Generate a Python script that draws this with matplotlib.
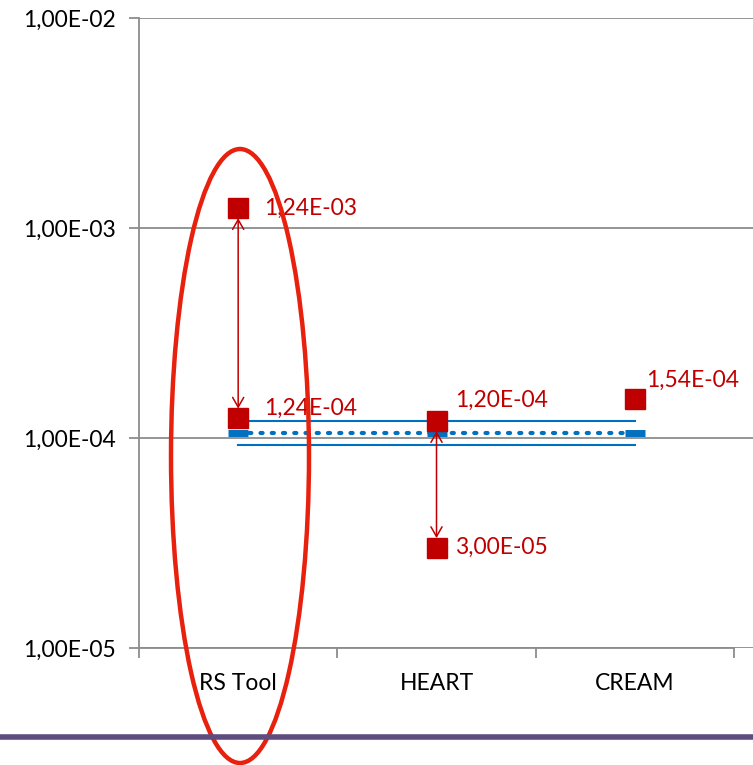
import matplotlib.pyplot as plt
import matplotlib.patches as mpatches
from matplotlib.ticker import FixedLocator, FuncFormatter, NullLocator

plt.rcParams['font.family'] = ['Lato', 'DejaVu Sans']

# Data
methods = ["RS Tool", "HEART", "CREAM"]
upper_vals = [1.24e-3, 1.20e-4, 1.54e-4]
lower_vals = [1.24e-4, 3.00e-5]
upper_labels = ["1,24E-03", "1,20E-04", "1,54E-04"]
lower_labels = ["1,24E-04", "3,00E-05"]
ref_mean = [1.06e-4, 1.06e-4, 1.06e-4]
ref_high = [1.20e-4, 1.20e-4, 1.20e-4]
ref_low = [9.3e-5, 9.3e-5, 9.3e-5]
y_ticks = [1e-5, 1e-4, 1e-3, 1e-2]

dark_red = '#C00000'
blue = '#0070C0'
grey = '#8C8C8C'
fs = 16.5

fig = plt.figure(figsize=(7.53, 7.65), dpi=100)
ax = fig.add_axes([139 / 753, 1 - 648 / 765, 1 - 139 / 753, (648 - 18) / 765])

x = list(range(len(methods)))

# reference band
ax.plot(x, ref_high, color=blue, lw=1.5, zorder=3)
ax.plot(x, ref_low, color=blue, lw=1.5, zorder=3)
ax.plot(x, ref_mean, color=blue, lw=3, ls=(0, (0.5, 2.2)), dash_capstyle='round',
        marker='_', ms=15, mew=5, zorder=3)

# arrows between the two estimates
for i in range(len(lower_vals)):
    ax.annotate('', xy=(x[i], lower_vals[i]), xytext=(x[i], upper_vals[i]),
                arrowprops=dict(arrowstyle='<->,head_length=0.7,head_width=0.4',
                                color=dark_red, lw=1.1, shrinkA=7, shrinkB=7),
                zorder=4)

# estimates
ax.plot(x, upper_vals, ls='none', marker='s', ms=14, color=dark_red, zorder=5)
ax.plot(x[:len(lower_vals)], lower_vals, ls='none', marker='s', ms=14, color=dark_red, zorder=5)

upper_offsets = [(19, 0), (13.5, 15), (8, 13)]
lower_offsets = [(19, 7), (13.5, 0)]
for i, lab in enumerate(upper_labels):
    ax.annotate(lab, (x[i], upper_vals[i]), xytext=upper_offsets[i], textcoords='offset points',
                color=dark_red, fontsize=fs, va='center', ha='left')
for i, lab in enumerate(lower_labels):
    ax.annotate(lab, (x[i], lower_vals[i]), xytext=lower_offsets[i], textcoords='offset points',
                color=dark_red, fontsize=fs, va='center', ha='left')

ax.set_yscale('log')
ax.set_ylim(1e-5, 1e-2)
ax.set_xlim(-0.5, 2.5 + 19 / 198.5)
ax.yaxis.set_major_locator(FixedLocator(y_ticks))
ax.yaxis.set_minor_locator(NullLocator())
ax.yaxis.set_major_formatter(FuncFormatter(lambda v, p: f"{v:.2E}".replace('.', ',')))
ax.grid(axis='y', color=grey, lw=1.3)
ax.set_axisbelow(True)

ax.set_xticks(x)
ax.set_xticklabels(methods)
ax.set_xticks([-0.5, 0.5, 1.5, 2.5], minor=True)
ax.tick_params(axis='x', which='major', length=0, pad=18, labelsize=fs)
ax.tick_params(axis='x', which='minor', length=7, color=grey, width=1.3)
ax.tick_params(axis='y', length=7, color=grey, width=1.3, pad=10, labelsize=fs)

for s in ['top', 'right']:
    ax.spines[s].set_visible(False)
ax.spines['left'].set_color(grey)
ax.spines['left'].set_linewidth(1.3)
ax.spines['bottom'].set_color(grey)
ax.spines['bottom'].set_linewidth(1.3)
ax.spines['bottom'].set_bounds(-0.5, 2.5)

# slide rule and highlight ellipse
fig.add_artist(plt.Line2D([0, 1], [1 - 737 / 765] * 2, color='#5E4C7F', lw=4,
                          transform=fig.transFigure))
fig.add_artist(mpatches.Ellipse((240 / 753, 1 - 456 / 765), 138 / 753, 614 / 765,
                                transform=fig.transFigure, fill=False,
                                edgecolor='#E8200E', lw=3.2))

fig.savefig('out.png', dpi=100)
